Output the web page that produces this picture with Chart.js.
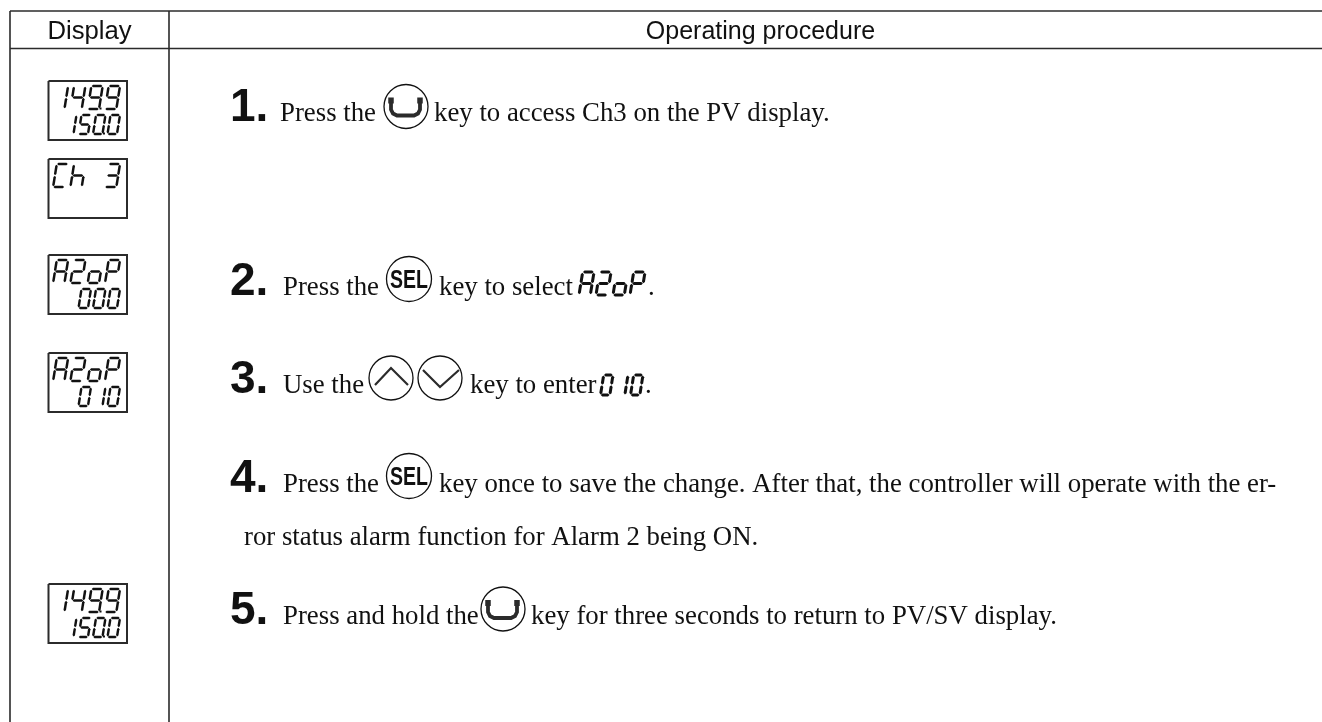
<!DOCTYPE html>
<html>
<head>
<meta charset="utf-8">
<title>Operating procedure</title>
<script src="https://cdn.jsdelivr.net/npm/chart.js@4/dist/chart.umd.min.js"></script>
<style>
html, body { margin: 0; padding: 0; background: #fff; }
canvas { display: block; }
</style>
</head>
<body>
<canvas id="procedureChart" width="1322" height="722" aria-label="Display and operating procedure table"></canvas>
<script>
// table content
const headerLabels = ['Display', 'Operating procedure'];
const stepLabels = ['1.', '2.', '3.', '4.', '5.'];
const stepTextOne = ['Press the', 'key to access Ch3 on the PV display.'];
const stepTextTwo = ['Press the', 'key to select', '.'];
const stepTextThree = ['Use the', 'key to enter', '.'];
const stepTextFour = ['Press the', 'key once to save the change. After that, the controller will operate with the er-'];
const stepTextFourCont = ['ror status alarm function for Alarm 2 being ON.'];
const stepTextFive = ['Press and hold the', 'key for three seconds to return to PV/SV display.'];
const keyLabel = 'SEL';

// seven segment readouts, top row and bottom row per frame
const displayTop = ['149.9', 'Ch 3', 'A2oP', 'A2oP', '149.9'];
const displayBottom = ['150.0', '', '000', '010', '150.0'];
const inlineReadouts = ['A2oP', '010'];

// page geometry, the axes run in page pixels
const ruleRows = [11, 48.5];
const ruleCols = [10, 169];
const frameTops = [81, 159, 255, 353, 584];
const stepBaselines = [121, 295, 393, 492, 624];
const enterKeyCentres = [[406, 106.5], [503, 609]];
const selKeyCentres = [[409, 279], [409, 476]];
const arrowKeyCentres = [[391, 378], [440, 378]];

const SEGMENTS = {
	'0': 'abcdef', '1': 'bc', '2': 'abged', '3': 'abgcd', '4': 'fgbc', '5': 'afgcd', '9': 'abcdfg',
	'A': 'abcefg', 'C': 'afed', 'P': 'abefg', 'h': 'fegc', 'o': 'cdeg', ' ': ''
};

function lineSet(points, width) {
	return {
		type: 'scatter', showLine: true, data: points.map(p => ({ x: p[0], y: p[1] })),
		borderColor: '#2b2b2b', borderWidth: width || 1.5, pointRadius: 0, fill: false, clip: false, tension: 0
	};
}

function circleSet(centres, radius) {
	return {
		type: 'scatter', showLine: false, data: centres.map(p => ({ x: p[0], y: p[1] })),
		pointStyle: 'circle', pointRadius: radius, pointBorderWidth: 1.3,
		pointBorderColor: '#111', pointBackgroundColor: 'rgba(255,255,255,0)', clip: false
	};
}

const datasets = [];

//table rules
ruleRows.forEach(y => datasets.push(lineSet([[ruleCols[0], y], [1322, y]], 1.6)));
ruleCols.forEach(x => datasets.push(lineSet([[x, ruleRows[0]], [x, 722]], 1.6)));

//display frames
frameTops.forEach(y => datasets.push(lineSet([[48.5, y], [127, y], [127, y + 59], [48.5, y + 59], [48.5, y]], 2)));

//key circles
datasets.push(circleSet(enterKeyCentres, 22));
datasets.push(circleSet(selKeyCentres, 22.5));
datasets.push(circleSet(arrowKeyCentres, 22));

//arrow key chevrons
datasets.push(lineSet([[375, 385], [391, 368], [408, 385]], 2.2));
datasets.push(lineSet([[423, 370], [440, 387], [459, 370]], 2.2));

//enter key brackets
enterKeyCentres.forEach(c => {
	const x = c[0], y = c[1];
	datasets.push(lineSet([[x - 15, y - 4], [x - 15, y + 3], [x - 13, y + 7], [x - 9, y + 9], [x + 8, y + 9], [x + 12, y + 7], [x + 14, y + 3], [x + 14, y - 4]], 3.8));
	datasets.push(lineSet([[x - 15, y - 9], [x - 15, y - 3]], 5.5));
	datasets.push(lineSet([[x + 14, y - 9], [x + 14, y - 3]], 5.5));
});

//one tapered lcd segment
function drawSegment(ctx, a, b, t) {
	const dx = b[0] - a[0], dy = b[1] - a[1];
	const len = Math.hypot(dx, dy);
	const ux = dx / len, uy = dy / len;
	const px = -uy * t, py = ux * t;
	ctx.beginPath();
	ctx.moveTo(a[0], a[1]);
	ctx.lineTo(a[0] + ux * t + px, a[1] + uy * t + py);
	ctx.lineTo(b[0] - ux * t + px, b[1] - uy * t + py);
	ctx.lineTo(b[0], b[1]);
	ctx.lineTo(b[0] - ux * t - px, b[1] - uy * t - py);
	ctx.lineTo(a[0] + ux * t - px, a[1] + uy * t - py);
	ctx.closePath();
	ctx.fill();
}

function drawReadout(ctx, text, right, top, w, h, pitch, t) {
	const slant = h * 0.16;
	const cells = text.replace('.', '').split('');
	const dotAfter = text.indexOf('.') - 1;
	ctx.fillStyle = '#111';
	cells.forEach((ch, i) => {
		const left = right - w - (cells.length - 1 - i) * pitch;
		const P = (u, v) => [left + u * (w - slant) + (1 - v) * slant, top + v * h];
		const gap = 0.03;
		const parts = {
			a: [P(gap, 0), P(1 - gap, 0)], g: [P(gap, 0.5), P(1 - gap, 0.5)], d: [P(gap, 1), P(1 - gap, 1)],
			f: [P(0, gap), P(0, 0.5 - gap / 2)], b: [P(1, gap), P(1, 0.5 - gap / 2)],
			e: [P(0, 0.5 + gap / 2), P(0, 1 - gap)], c: [P(1, 0.5 + gap / 2), P(1, 1 - gap)]
		};
		(SEGMENTS[ch] || '').split('').forEach(s => drawSegment(ctx, parts[s][0], parts[s][1], t));
		if (i === dotAfter) {
			ctx.fillRect(left + w - slant + 0.5, top + h - 1.5, 2, 2);
		}
	});
}

const pageText = {
	id: 'pageText',
	afterDatasetsDraw(chart) {
		const ctx = chart.ctx;
		const X = v => chart.scales.x.getPixelForValue(v);
		const Y = v => chart.scales.y.getPixelForValue(v);
		const put = (str, x, y, font, align) => {
			ctx.font = font;
			ctx.textAlign = align || 'left';
			ctx.fillStyle = '#111';
			ctx.fillText(str, X(x), Y(y));
		};
		ctx.save();
		ctx.textBaseline = 'alphabetic';

		put(headerLabels[0], 89.5, 39, '25.7px "Liberation Sans"', 'center');
		put(headerLabels[1], 760.5, 39, '25px "Liberation Sans"', 'center');

		stepLabels.forEach((label, i) => put(label, 230, stepBaselines[i], 'bold 46px "Liberation Sans"'));

		const serif = '26.8px "Liberation Serif"';
		put(stepTextOne[0], 280, 121, serif);
		put(stepTextOne[1], 434, 121, serif);
		put(stepTextTwo[0], 283, 295, serif);
		put(stepTextTwo[1], 439, 295, serif);
		put(stepTextTwo[2], 648, 295, serif);
		put(stepTextThree[0], 283, 393, serif);
		put(stepTextThree[1], 470, 393, serif);
		put(stepTextThree[2], 645, 393, serif);
		put(stepTextFour[0], 283, 492, serif);
		put(stepTextFour[1], 439, 492, serif);
		put(stepTextFourCont[0], 244, 545, serif);
		put(stepTextFive[0], 283, 624, serif);
		put(stepTextFive[1], 531, 624, serif);

		//the key caption is a narrowed bold face
		selKeyCentres.forEach(c => {
			ctx.save();
			ctx.translate(X(c[0]), Y(c[1] + 9));
			ctx.scale(0.78, 1);
			ctx.font = 'bold 25px "Liberation Sans"';
			ctx.textAlign = 'center';
			ctx.fillStyle = '#111';
			ctx.fillText(keyLabel, 0, 0);
			ctx.restore();
		});

		frameTops.forEach((y, i) => {
			drawReadout(ctx, displayTop[i], X(120), Y(y + 5), 15, 23, 17.3, 1.25);
			drawReadout(ctx, displayBottom[i], X(120), Y(y + 34), 12.5, 19, 14.5, 1.2);
		});
		drawReadout(ctx, inlineReadouts[0], X(645), Y(272), 15, 23, 17, 1.5);
		drawReadout(ctx, inlineReadouts[1], X(643), Y(375), 12.5, 20, 15, 1.5);
		ctx.restore();
	}
};

new Chart(document.getElementById('procedureChart').getContext('2d'), {
	data: { datasets: datasets },
	plugins: [pageText],
	options: {
		responsive: false,
		animation: false,
		layout: { padding: 0, autoPadding: false },
		plugins: { legend: { display: false }, tooltip: { enabled: false } },
		events: [],
		scales: {
			x: { type: 'linear', min: 0, max: 1322, display: false },
			y: { type: 'linear', min: 0, max: 722, reverse: true, display: false }
		}
	}
});
</script>
</body>
</html>
